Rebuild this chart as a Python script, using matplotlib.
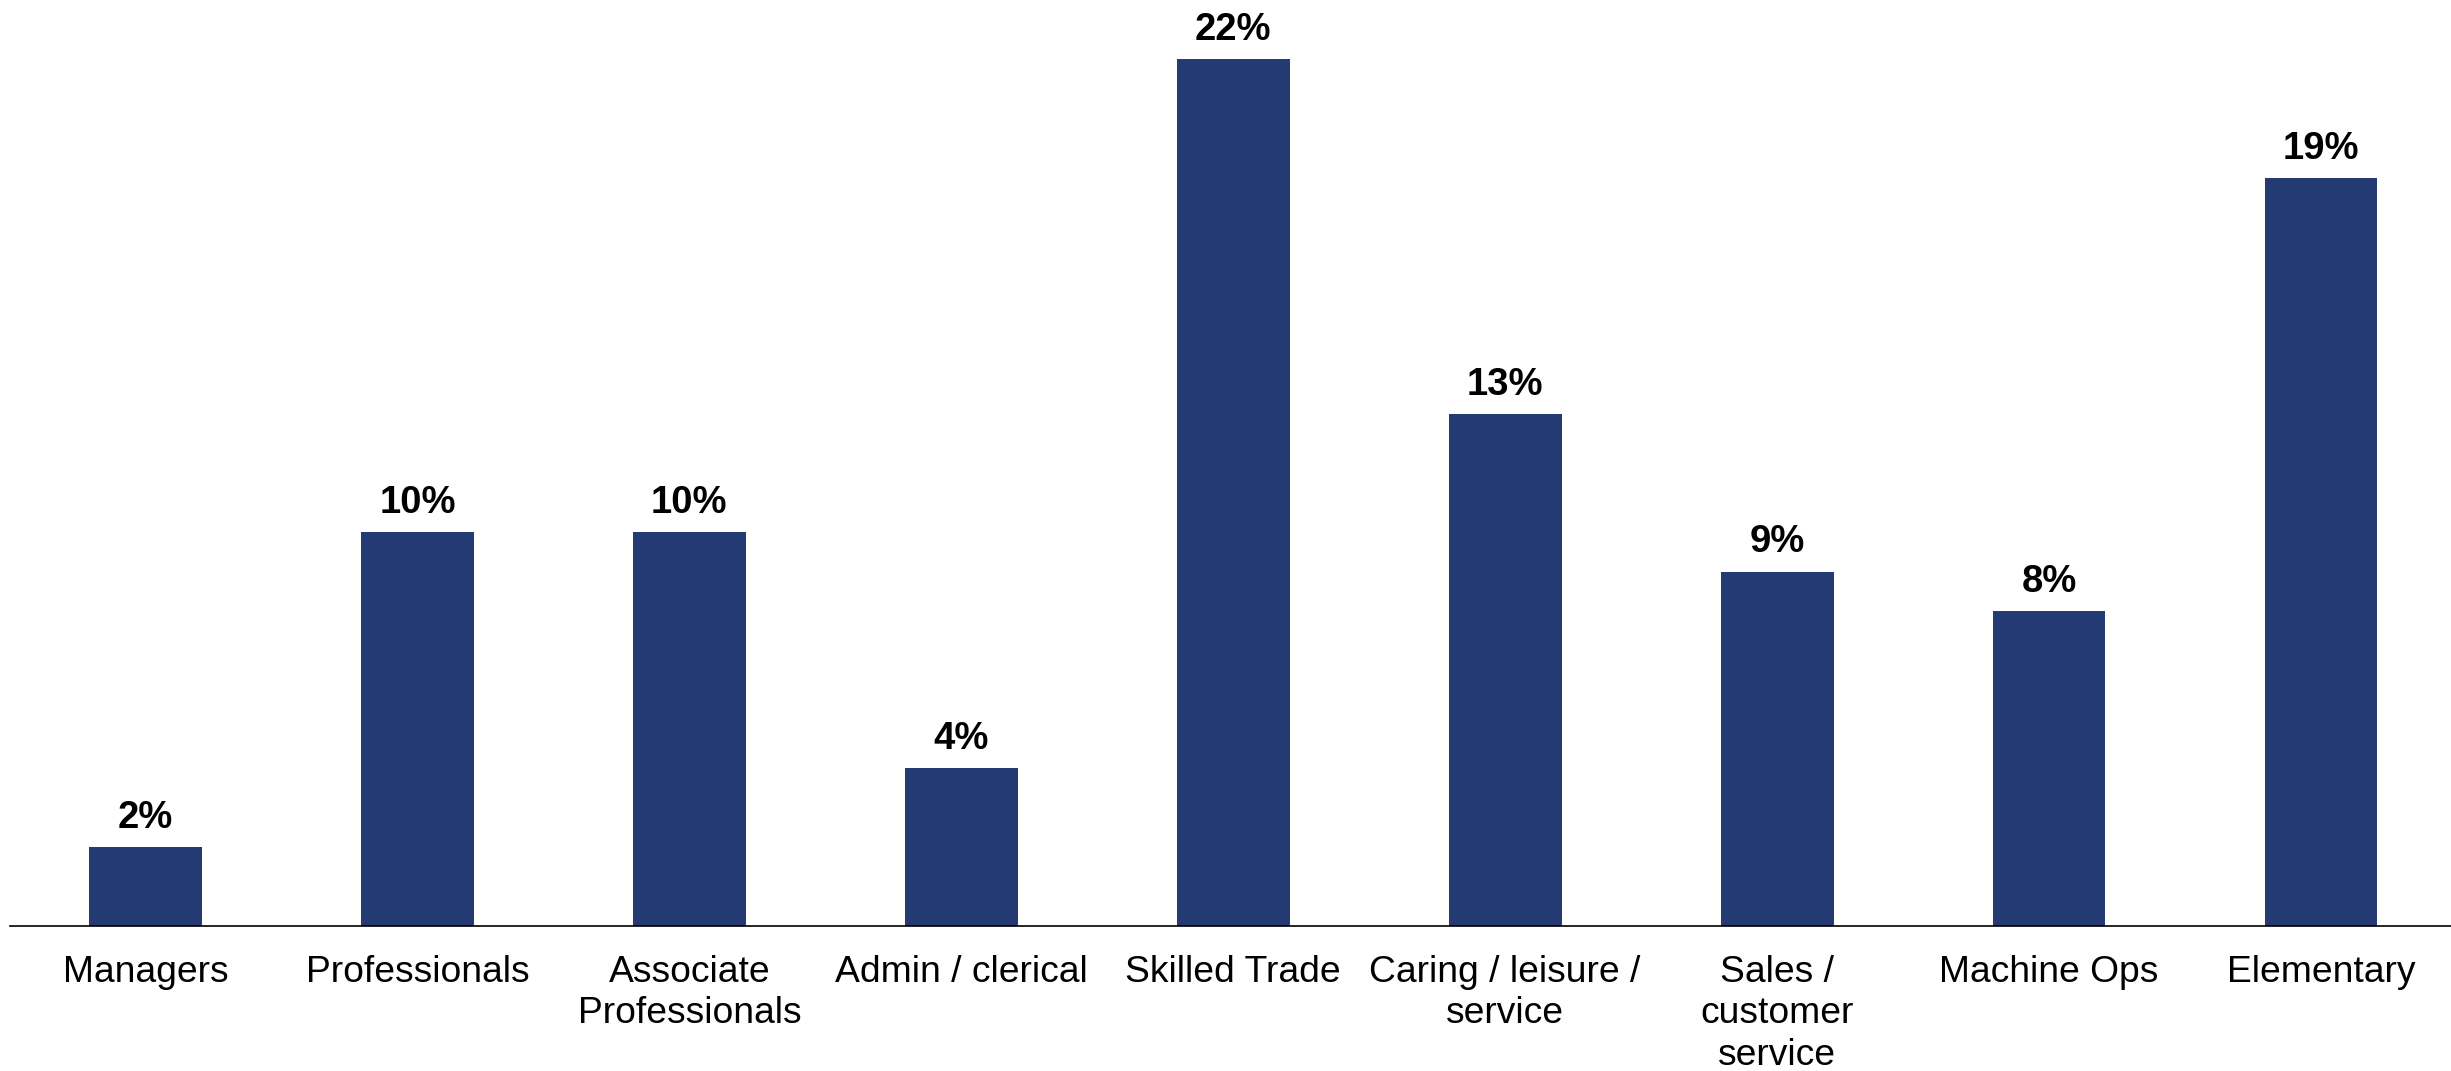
import matplotlib.pyplot as plt
import numpy as np

# Data
categories = ['Managers', 'Professionals', 'Associate\nProfessionals', 'Admin / clerical',
              'Skilled Trade', 'Caring / leisure /\nservice', 'Sales /\ncustomer\nservice',
              'Machine Ops', 'Elementary']
values = [2, 10, 10, 4, 22, 13, 9, 8, 19]

plt.rcParams['font.family'] = ['Liberation Sans', 'DejaVu Sans']

fig = plt.figure(figsize=(24.51, 10.71), dpi=100)
ax = fig.add_axes([9.5 / 2451, 145 / 1071, 1 - 9.5 / 2451, 926 / 1071])

x = np.arange(len(categories))
bars = ax.bar(x, values, width=0.415, color='#243a73')

# Value labels above each bar
for b, v in zip(bars, values):
    ax.annotate(f'{v}%', (b.get_x() + b.get_width() / 2, v),
                xytext=(0, 8), textcoords='offset points',
                ha='center', va='bottom', fontsize=27.5, fontweight='bold')

ax.set_xlim(-0.5, 8.478)
ax.set_ylim(0, 23.51)
ax.set_xticks(x)
ax.set_xticklabels(categories, fontsize=26.8, linespacing=1.23)
ax.tick_params(axis='x', length=0, pad=21)
ax.set_yticks([])

for s in ['top', 'right', 'left']:
    ax.spines[s].set_visible(False)
ax.spines['bottom'].set_linewidth(1.2)

fig.savefig('out.png', dpi=100)
